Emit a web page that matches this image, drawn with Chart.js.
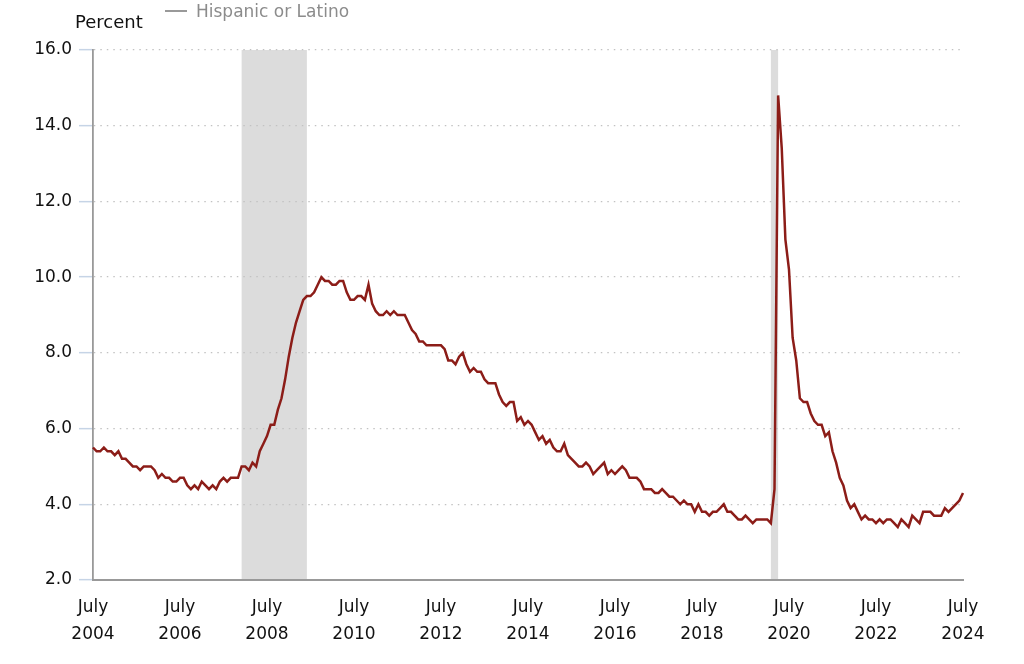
<!DOCTYPE html>
<html>
<head>
<meta charset="utf-8">
<script src="https://cdn.jsdelivr.net/npm/chart.js@4.4.1/dist/chart.umd.min.js"></script>
<style>
    html, body { margin: 0; padding: 0; background: #fff; }
    #wrap { position: relative; width: 1024px; height: 664px; font-family: "DejaVu Sans", Verdana, sans-serif; }
    #unitLabel { position: absolute; left: 75px; top: 13px; font-size: 18px; line-height: 18px; color: #111; }
    #legend { position: absolute; left: 165px; top: 3px; font-size: 17px; line-height: 17px; color: #8c8c8c; white-space: nowrap; }
    #legend .swatch { display: inline-block; width: 22px; height: 2px; background: #999; vertical-align: middle; margin-right: 9px; position: relative; top: -1px; }
</style>
</head>
<body>
<div id="wrap">
    <canvas id="rateChart" width="1024" height="664"></canvas>
    <div id="unitLabel">Percent</div>
    <div id="legend"><span class="swatch"></span>Hispanic or Latino</div>
</div>
<script>
// Monthly unemployment rate, July 2004 - July 2024 (percent)
const rates2004to2009 = [
    5.5, 5.4, 5.4, 5.5, 5.4, 5.4, 5.3, 5.4, 5.2, 5.2, 5.1, 5.0,
    5.0, 4.9, 5.0, 5.0, 5.0, 4.9, 4.7, 4.8, 4.7, 4.7, 4.6, 4.6,
    4.7, 4.7, 4.5, 4.4, 4.5, 4.4, 4.6, 4.5, 4.4, 4.5, 4.4, 4.6,
    4.7, 4.6, 4.7, 4.7, 4.7, 5.0, 5.0, 4.9, 5.1, 5.0, 5.4, 5.6,
    5.8, 6.1, 6.1, 6.5, 6.8, 7.3, 7.9, 8.4, 8.8, 9.1, 9.4, 9.5
];
const rates2009to2014 = [
    9.5, 9.6, 9.8, 10.0, 9.9, 9.9, 9.8, 9.8, 9.9, 9.9, 9.6, 9.4,
    9.4, 9.5, 9.5, 9.4, 9.8, 9.3, 9.1, 9.0, 9.0, 9.1, 9.0, 9.1,
    9.0, 9.0, 9.0, 8.8, 8.6, 8.5, 8.3, 8.3, 8.2, 8.2, 8.2, 8.2,
    8.2, 8.1, 7.8, 7.8, 7.7, 7.9, 8.0, 7.7, 7.5, 7.6, 7.5, 7.5,
    7.3, 7.2, 7.2, 7.2, 6.9, 6.7, 6.6, 6.7, 6.7, 6.2, 6.3, 6.1
];
const rates2014to2019 = [
    6.2, 6.1, 5.9, 5.7, 5.8, 5.6, 5.7, 5.5, 5.4, 5.4, 5.6, 5.3,
    5.2, 5.1, 5.0, 5.0, 5.1, 5.0, 4.8, 4.9, 5.0, 5.1, 4.8, 4.9,
    4.8, 4.9, 5.0, 4.9, 4.7, 4.7, 4.7, 4.6, 4.4, 4.4, 4.4, 4.3,
    4.3, 4.4, 4.3, 4.2, 4.2, 4.1, 4.0, 4.1, 4.0, 4.0, 3.8, 4.0,
    3.8, 3.8, 3.7, 3.8, 3.8, 3.9, 4.0, 3.8, 3.8, 3.7, 3.6, 3.6
];
const rates2019to2024 = [
    3.7, 3.6, 3.5, 3.6, 3.6, 3.6, 3.6, 3.5, 4.4, 14.8, 13.4, 11.0,
    10.2, 8.4, 7.8, 6.8, 6.7, 6.7, 6.4, 6.2, 6.1, 6.1, 5.8, 5.9,
    5.4, 5.1, 4.7, 4.5, 4.1, 3.9, 4.0, 3.8, 3.6, 3.7, 3.6, 3.6,
    3.5, 3.6, 3.5, 3.6, 3.6, 3.5, 3.4, 3.6, 3.5, 3.4, 3.7, 3.6,
    3.5, 3.8, 3.8, 3.8, 3.7, 3.7, 3.7, 3.9, 3.8, 3.9, 4.0, 4.1,
    4.3
];
const rates = rates2004to2009.concat(rates2009to2014, rates2014to2019, rates2019to2024);

const tickYears = ['2004', '2006', '2008', '2010', '2012', '2014', '2016', '2018', '2020', '2022', '2024'];
const yTicks = [2, 4, 6, 8, 10, 12, 14, 16];
const recessions = [['2007-12', '2009-06'], ['2020-02', '2020-04']];

// month categories 'YYYY-MM'
const months = [];
for (let i = 0; i < rates.length; i++) {
    const m = 6 + i; // July 2004 = month index 6 of 2004
    const y = 2004 + Math.floor(m / 12);
    const mm = (m % 12) + 1;
    months.push(y + '-' + (mm < 10 ? '0' + mm : mm));
}

const shadePlugin = {
    id: 'recessionShade',
    beforeDraw(chart) {
        const { ctx, chartArea, scales } = chart;
        ctx.save();
        ctx.fillStyle = '#dcdcdc';
        recessions.forEach(r => {
            const x1 = scales.x.getPixelForValue(months.indexOf(r[0]));
            const x2 = scales.x.getPixelForValue(months.indexOf(r[1]));
            ctx.fillRect(x1, chartArea.top, x2 - x1, chartArea.bottom - chartArea.top);
        });
        ctx.restore();
    }
};

new Chart(document.getElementById('rateChart'), {
    type: 'line',
    data: {
        labels: months,
        datasets: [{
            label: 'Hispanic or Latino',
            data: rates,
            borderColor: '#8c1d18',
            borderWidth: 2.5,
            pointRadius: 0,
            tension: 0,
            fill: false
        }]
    },
    options: {
        responsive: false,
        animation: false,
        devicePixelRatio: 1,
        layout: { padding: { left: 0, right: 61, top: 50, bottom: 0 } },
        plugins: { legend: { display: false }, tooltip: { enabled: false } },
        scales: {
            x: {
                type: 'category',
                offset: false,
                grid: { display: false, drawTicks: false },
                border: { display: true, color: '#999', width: 2 },
                afterFit: scale => { scale.height = 84; },
                ticks: {
                    autoSkip: false,
                    maxRotation: 0,
                    padding: 14,
                    color: '#111',
                    font: { family: 'DejaVu Sans', size: 17, lineHeight: '27px' },
                    callback: function (value, index) {
                        const parts = months[index].split('-');
                        if (parts[1] === '07' && tickYears.includes(parts[0])) return ['July', parts[0]];
                        return null;
                    }
                }
            },
            y: {
                min: 2,
                max: 16,
                afterFit: scale => { scale.width = 93; },
                afterBuildTicks: scale => { scale.ticks = yTicks.map(v => ({ value: v })); },
                grid: {
                    color: '#c2c2c2',
                    lineWidth: 1.3,
                    drawTicks: true,
                    tickLength: 14,
                    tickColor: '#c6d4e6',
                    tickWidth: 1.5
                },
                border: { display: true, color: '#999', width: 1.8, dash: [1.5, 5] },
                ticks: {
                    padding: 7,
                    color: '#111',
                    font: { family: 'DejaVu Sans', size: 17 },
                    callback: v => v.toFixed(1)
                }
            }
        }
    },
    plugins: [shadePlugin]
});
</script>
</body>
</html>
